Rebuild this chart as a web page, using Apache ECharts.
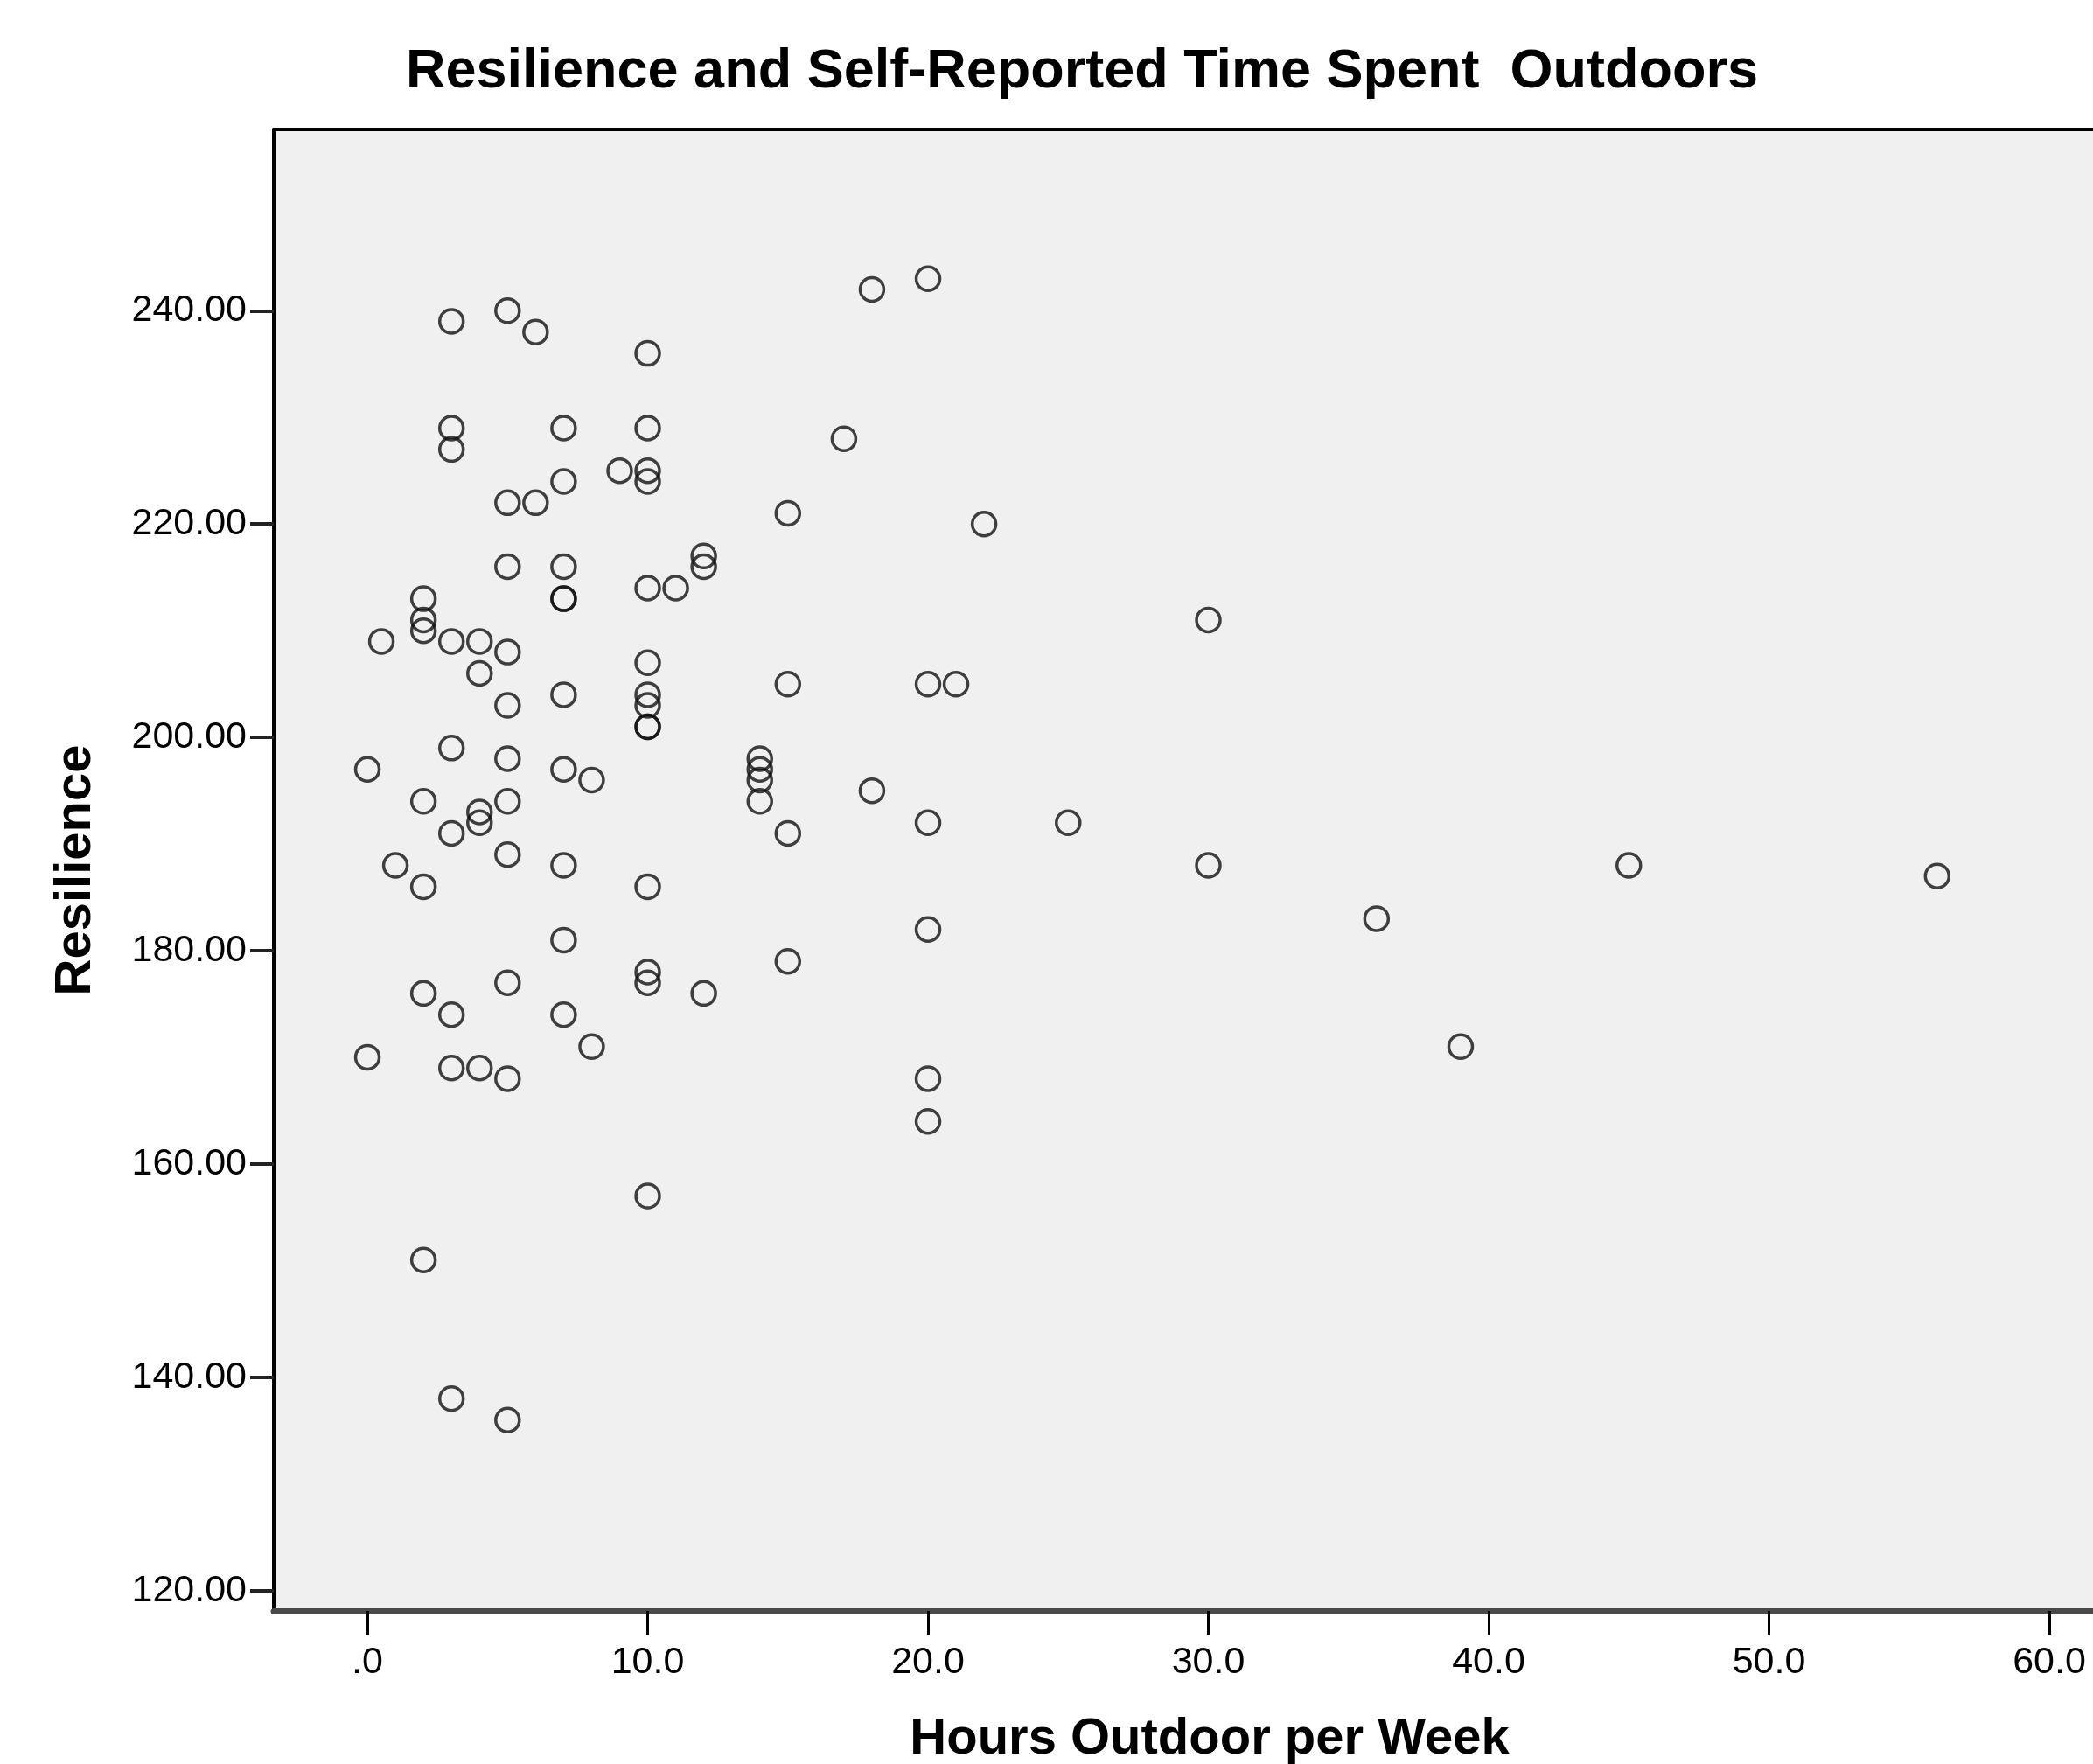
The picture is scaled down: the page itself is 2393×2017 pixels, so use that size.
<!DOCTYPE html>
<html>
<head>
<meta charset="utf-8">
<script src="https://cdn.jsdelivr.net/npm/echarts@6/dist/echarts.min.js"></script>
<style>
  html, body { margin: 0; padding: 0; background: #ffffff; }
  #chart { width: 2393px; height: 2017px; }
</style>
</head>
<body>
<div id="chart"></div>
<script>
// hours outdoor per week / resilience score, one entry per respondent
var hoursOutdoor = [
  3, 5, 6, 10, 18, 20, 3, 3, 7, 10, 17, 9, 10, 10, 7, 5, 6, 15, 22, 12,
  12, 5, 7, 7, 7, 10, 11, 2, 2, 2, 0.5, 3, 4, 5, 4, 30, 10, 5, 7, 10,
  10, 10, 10, 15, 20, 21, 3, 0, 5, 7, 8, 14, 14, 14, 14, 18, 2, 5, 4, 4,
  3, 15, 20, 25, 5, 1, 7, 30, 45, 56, 2, 10, 36, 20, 7, 15, 10, 10, 2, 5,
  12, 3, 7, 8, 39, 0, 3, 4, 5, 20, 20, 10, 2, 3, 5
];
var resilience = [
  239, 240, 238, 236, 242, 243, 229, 227, 229, 229, 228, 225, 225, 224, 224, 222, 222, 221, 220, 217,
  216, 216, 216, 213, 213, 214, 214, 213, 211, 210, 209, 209, 209, 208, 206, 211, 207, 203, 204, 204,
  203, 201, 201, 205, 205, 205, 199, 197, 198, 197, 196, 198, 197, 196, 194, 195, 194, 194, 193, 192,
  191, 191, 192, 192, 189, 188, 188, 188, 188, 187, 186, 186, 183, 182, 181, 179, 178, 177, 176, 177,
  176, 174, 174, 171, 171, 170, 169, 169, 168, 168, 164, 157, 151, 138, 136
];

var xTickValues = [0, 10, 20, 30, 40, 50, 60];
var xTickLabels = ['.0', '10.0', '20.0', '30.0', '40.0', '50.0', '60.0'];
var yTickValues = [120, 140, 160, 180, 200, 220, 240];
var yTickLabels = ['120.00', '140.00', '160.00', '180.00', '200.00', '220.00', '240.00'];

var points = [];
for (var i = 0; i < hoursOutdoor.length; i++) {
  points.push([hoursOutdoor[i], resilience[i]]);
}

var font = '"Liberation Sans", Arial, sans-serif';
var xMin = -3.34, xMax = 61.56;

var chart = echarts.init(document.getElementById('chart'), null, { renderer: 'canvas' });
chart.setOption({
  animation: false,
  backgroundColor: '#ffffff',
  title: {
    text: 'Resilience and Self-Reported Time Spent  Outdoors',
    left: 1237,
    top: 51,
    padding: 0,
    textAlign: 'center',
    textStyle: {
      fontFamily: font,
      fontSize: 63,
      fontWeight: 'bold',
      color: '#000000'
    }
  },
  grid: {
    left: 313,
    top: 148,
    right: 0,
    bottom: 175,
    outerBoundsMode: 'none',
    containLabel: false,
    show: true,
    backgroundColor: '#f0f0f0',
    borderWidth: 0
  },
  xAxis: [{
    type: 'value',
    position: 'bottom',
    min: xMin,
    max: xMax,
    name: 'Hours Outdoor per Week',
    nameLocation: 'middle',
    nameGap: 118,
    nameTextStyle: {
      fontFamily: font, fontSize: 58, fontWeight: 'bold', color: '#000000',
      padding: [0, 0, 0, 60]
    },
    axisLine: { show: true, onZero: false, lineStyle: { color: '#4a4a4a', width: 7 } },
    axisTick: { show: true, length: 27, customValues: xTickValues, lineStyle: { color: '#000000', width: 3 } },
    axisLabel: {
      show: true,
      margin: 38,
      customValues: xTickValues,
      fontFamily: font,
      fontSize: 43,
      color: '#000000',
      formatter: function(v) {
        return xTickLabels[xTickValues.indexOf(v)];
      }
    },
    splitLine: { show: false }
  }, {
    // top frame line of the plot
    type: 'value',
    position: 'top',
    min: xMin,
    max: xMax,
    axisLine: { show: true, onZero: false, lineStyle: { color: '#000000', width: 4 } },
    axisTick: { show: false },
    axisLabel: { show: false },
    splitLine: { show: false }
  }],
  yAxis: {
    type: 'value',
    min: 118.1,
    max: 257,
    name: 'Resilience',
    nameLocation: 'middle',
    nameRotate: 90,
    nameGap: 197,
    nameTextStyle: { fontFamily: font, fontSize: 58, fontWeight: 'bold', color: '#000000' },
    axisLine: { show: true, onZero: false, lineStyle: { color: '#000000', width: 4 } },
    axisTick: { show: true, length: 27, customValues: yTickValues, lineStyle: { color: '#222222', width: 4 } },
    axisLabel: {
      show: true,
      margin: 31,
      customValues: yTickValues,
      fontFamily: font,
      fontSize: 43,
      color: '#000000',
      formatter: function(v) {
        return yTickLabels[yTickValues.indexOf(v)];
      }
    },
    splitLine: { show: false }
  },
  series: [{
    type: 'scatter',
    xAxisIndex: 0,
    data: points,
    symbol: 'circle',
    symbolSize: 27,
    silent: true,
    itemStyle: {
      color: 'rgba(0,0,0,0)',
      borderColor: '#111111',
      borderWidth: 3.5
    }
  }]
});
</script>
</body>
</html>
